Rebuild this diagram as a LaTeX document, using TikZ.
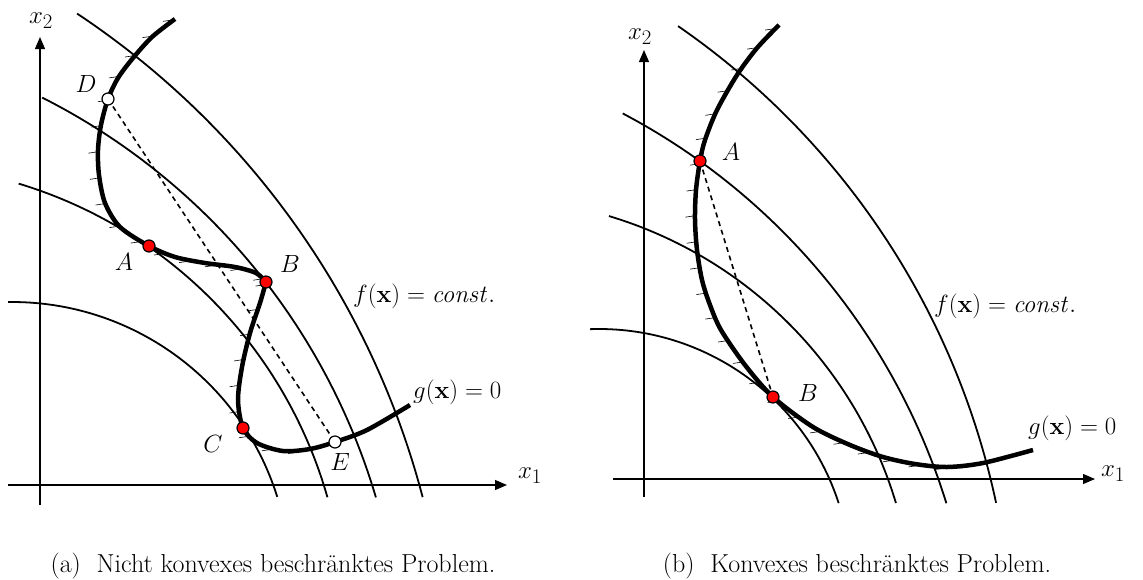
\documentclass[tikz,border=0pt]{standalone}
\usetikzlibrary{decorations.markings,arrows.meta}
\begin{document}
\begin{tikzpicture}[x=1pt,y=-1pt,
  lvl/.style={line width=1.8pt},
  tickmarks/.style={postaction={decorate,decoration={markings,
      mark=between positions 0.01 and 0.99 step 26pt with {
        \coordinate (tk) at (0,-1.5pt);
        \pgftransformresetnontranslations
        \draw[line width=0.6pt] (tk) -- ++(-8pt,-1.2pt);}}}},
  constr/.style={line width=4.5pt, line cap=butt},
  axisline/.style={line width=1.2pt, -{Triangle[length=12pt,width=10pt]}},
  dotred/.style={circle, draw=black, line width=1.2pt, fill=red, inner sep=0pt, minimum size=12pt},
  dotwhite/.style={dotred, fill=white},
  lab/.style={font=\fontsize{30}{34}\selectfont, inner sep=0pt},
  captext/.style={font=\fontsize{26}{30}\selectfont, inner sep=0pt},
  dashline/.style={line width=1.6pt, dash pattern=on 5pt off 4pt},
]
\useasboundingbox (0,0) rectangle (1143,579);

% ================= panel (a) =================
\coordinate (ca1) at (12,580);
\coordinate (ca2) at (-114,623);
\coordinate (ca3) at (-254,684);
\coordinate (ca4) at (-385,709);
\draw[lvl] (ca1) ++(-90.8:278) arc[start angle=-90.8, end angle=-17.4, radius=278];
\draw[lvl] (ca2) ++(-73.2:459) arc[start angle=-73.2, end angle=-15.9, radius=459];
\draw[lvl] (ca3) ++(-63.2:657) arc[start angle=-63.2, end angle=-16.5, radius=657];
\draw[lvl] (ca4) ++(-56.4:835) arc[start angle=-56.4, end angle=-14.7, radius=835];

\coordinate (ax1s) at (8,485);
\coordinate (ax1e) at (507,485);
\coordinate (ax2s) at (40,505);
\coordinate (ax2e) at (40,37);
\draw[axisline] (ax1s) -- (ax1e);
\draw[axisline] (ax2s) -- (ax2e);
\node[lab] (ax1lab) at (530,476) {$x_1$};
\node[lab] (ax2lab) at (41,21) {$x_2$};

\coordinate (aD) at (108,99);
\coordinate (aA) at (149,246);
\coordinate (aB) at (266,282);
\coordinate (aC) at (243,428);
\coordinate (aE) at (335,442);

\draw[constr,tickmarks] plot[smooth] coordinates {(175,19) (152,37) (133,58) (118,78) (108,99) (101,125) (98,150) (99,175) (105,203) (120,227) (149,246) (175,257) (205,263) (235,267) (256,273) (266,282)};
\draw[constr,tickmarks] plot[smooth] coordinates {(266,282) (260,303) (250,333) (242,367) (238,400) (243,428) (257,443) (283,451) (310,449) (335,442) (367,430) (410,405)};

\draw[dashline] (aD) -- (aE);

\node[dotwhite] (nD) at (aD) {};
\node[dotwhite] (nE) at (aE) {};
\node[dotred] (nA) at (aA) {};
\node[dotred] (nB) at (aB) {};
\node[dotred] (nC) at (aC) {};

\node[lab] (lD) at (86,84) {$D$};
\node[lab] (lA) at (124,262) {$A$};
\node[lab] (lB) at (290,264) {$B$};
\node[lab] (lC) at (213,444) {$C$};
\node[lab] (lE) at (340,462) {$E$};
\node[lab, anchor=base west] (fa) at (353,302) {$f(\mathbf{x}) = \mathit{const.}$};
\node[lab, anchor=base west] (ga) at (413,398) {$g(\mathbf{x}) = 0$};

\node[captext, anchor=base] (capa) at (273,572) {(a)\ \ Nicht konvexes beschränktes Problem.};

% ================= panel (b) =================
\coordinate (cb1) at (599,581);
\coordinate (cb2) at (486,626);
\coordinate (cb3) at (314,699);
\coordinate (cb4) at (238,664);
\draw[lvl] (cb1) ++(-92.0:252) arc[start angle=-92.0, end angle=-18.0, radius=252];
\draw[lvl] (cb2) ++(-73.3:428) arc[start angle=-73.3, end angle=-16.7, radius=428];
\draw[lvl] (cb3) ++(-62.2:662) arc[start angle=-62.2, end angle=-17.2, radius=662];
\draw[lvl] (cb4) ++(-55.4:775) arc[start angle=-55.4, end angle=-12.0, radius=775];

\coordinate (bx1s) at (613,479);
\coordinate (bx1e) at (1095,479);
\coordinate (bx2s) at (644,497);
\coordinate (bx2e) at (644,50);
\draw[axisline] (bx1s) -- (bx1e);
\draw[axisline] (bx2s) -- (bx2e);
\node[lab] (bx1lab) at (1113,474) {$x_1$};
\node[lab] (bx2lab) at (640,37) {$x_2$};

\coordinate (bA) at (700,161);
\coordinate (bB) at (773,397);

\draw[constr,tickmarks] plot[smooth] coordinates {(779,25) (757,48) (737,75) (717,110) (705,140) (700,161) (696,190) (695,220) (697,250) (702,280) (710,305) (721,330) (745,365) (773,397) (813,427) (850,445) (883,457) (915,464) (947,467) (983,463) (1033,450)};

\draw[dashline] (bA) -- (bB);

\node[dotred] (nbA) at (bA) {};
\node[dotred] (nbB) at (bB) {};

\node[lab] (lbA) at (731,152) {$A$};
\node[lab] (lbB) at (808,393) {$B$};
\node[lab, anchor=base west] (fb) at (934,312) {$f(\mathbf{x}) = \mathit{const.}$};
\node[lab, anchor=base west] (gb) at (1028,434) {$g(\mathbf{x}) = 0$};

\node[captext, anchor=base] (capb) at (857,572) {(b)\ \ Konvexes beschränktes Problem.};
\end{tikzpicture}
\end{document}
